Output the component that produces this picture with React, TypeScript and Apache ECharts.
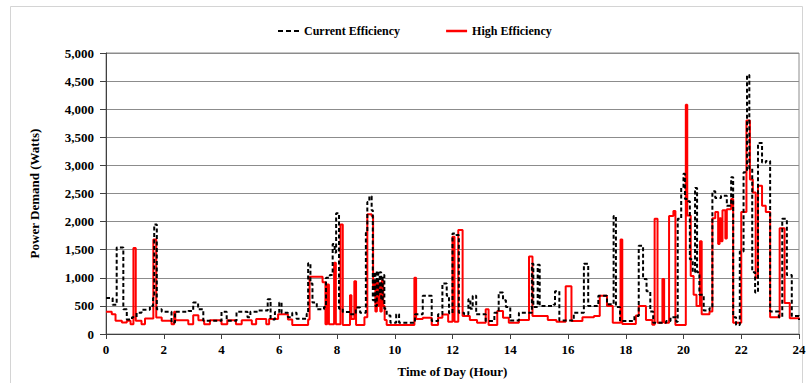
import React, { useEffect, useRef } from "react";
import * as echarts from "echarts";

// Time of day (hour) and power demand (W), step data
const currentEfficiency: [number, number][] = [
  [0, 640], [0.23, 520], [0.37, 1540], [0.6, 440], [0.72, 260], [0.9, 300], [1.06, 380], [1.23, 430],
  [1.52, 500], [1.63, 640], [1.67, 1950], [1.76, 440], [1.93, 395], [2.27, 205], [2.39, 395], [2.85, 410],
  [3.02, 560], [3.19, 440], [3.37, 235], [4.0, 395], [4.18, 235], [4.52, 395], [4.9, 300], [5.0, 395],
  [5.25, 420], [5.6, 620], [5.7, 260], [5.85, 390], [6.0, 560], [6.08, 380], [6.3, 300], [6.45, 380],
  [6.6, 270], [6.95, 360], [7.0, 1260], [7.08, 900], [7.15, 560], [7.3, 440], [7.55, 480], [7.62, 1000],
  [7.75, 1050], [7.85, 1600], [7.92, 1450], [7.97, 2150], [8.07, 450], [8.2, 390], [8.45, 350], [8.65, 470],
  [8.8, 380], [9.0, 1800], [9.05, 2350], [9.12, 2450], [9.2, 2200], [9.24, 600], [9.29, 1100], [9.33, 500],
  [9.38, 1120], [9.43, 700], [9.48, 1100], [9.53, 600], [9.58, 1050], [9.64, 450], [9.72, 330], [9.85, 200],
  [10.05, 350], [10.15, 200], [10.7, 350], [10.97, 680], [11.28, 230], [11.5, 350], [11.65, 900], [11.8, 680],
  [11.88, 370], [12.0, 1790], [12.13, 1760], [12.22, 380], [12.4, 350], [12.55, 620], [12.62, 450], [12.7, 680],
  [12.82, 350], [13.15, 230], [13.45, 380], [13.6, 740], [13.75, 600], [13.85, 480], [14.0, 240], [14.3, 380],
  [14.75, 1250], [14.8, 480], [14.95, 1230], [15.02, 500], [15.5, 520], [15.55, 760], [15.7, 240], [16.2, 380],
  [16.55, 1250], [16.7, 500], [17.05, 680], [17.35, 530], [17.58, 2100], [17.66, 480], [17.8, 230], [18.3, 320],
  [18.45, 1570], [18.6, 980], [18.72, 760], [18.85, 400], [18.95, 200], [19.4, 230], [19.55, 300], [19.75, 220],
  [19.8, 2050], [19.92, 2600], [20.0, 2850], [20.05, 2400], [20.15, 2360], [20.22, 1330], [20.32, 1100], [20.4, 2600],
  [20.47, 1100], [20.55, 700], [20.7, 420], [20.9, 460], [21.0, 2540], [21.1, 2420], [21.3, 2460], [21.5, 2280],
  [21.65, 2790], [21.72, 300], [21.82, 160], [21.95, 1470], [22.08, 2880], [22.2, 4610], [22.28, 2940], [22.38, 1100],
  [22.48, 740], [22.58, 3400], [22.72, 3050], [22.85, 3080], [23.0, 400], [23.3, 300], [23.42, 2050], [23.58, 1050],
  [23.75, 320], [24, 250],
];

const highEfficiency: [number, number][] = [
  [0, 395], [0.2, 350], [0.33, 235], [0.55, 205], [0.72, 235], [0.85, 175], [0.95, 1530], [1.03, 235],
  [1.23, 175], [1.35, 275], [1.64, 1680], [1.74, 295], [1.93, 235], [2.27, 175], [2.36, 395], [2.4, 245],
  [2.85, 175], [3.02, 335], [3.2, 245], [3.4, 175], [3.6, 245], [4.0, 175], [4.2, 245], [4.5, 175],
  [4.7, 245], [5.05, 175], [5.2, 265], [5.55, 175], [5.65, 265], [5.96, 350], [6.3, 260], [6.45, 160],
  [7.0, 260], [7.05, 1020], [7.5, 920], [7.6, 175], [7.66, 880], [7.72, 175], [7.9, 1270], [7.96, 175],
  [8.12, 1950], [8.2, 160], [8.45, 690], [8.5, 265], [8.6, 940], [8.66, 160], [8.95, 300], [9.05, 2130],
  [9.2, 2100], [9.25, 800], [9.3, 950], [9.33, 400], [9.38, 950], [9.42, 500], [9.46, 900], [9.5, 400],
  [9.55, 950], [9.6, 500], [9.65, 250], [9.72, 160], [10.68, 1000], [10.74, 265], [10.97, 290], [11.28, 160],
  [11.5, 290], [11.65, 345], [11.85, 220], [12.0, 1730], [12.07, 220], [12.2, 1850], [12.35, 320], [12.6, 250],
  [12.85, 200], [13.15, 440], [13.25, 160], [13.55, 410], [13.75, 290], [13.95, 200], [14.3, 250], [14.65, 1380],
  [14.77, 320], [15.3, 250], [15.6, 220], [15.92, 850], [16.12, 230], [16.5, 300], [16.9, 320], [17.1, 680],
  [17.35, 500], [17.55, 200], [17.82, 1680], [17.88, 180], [18.35, 330], [18.45, 500], [18.7, 250], [18.92, 165],
  [19.0, 2050], [19.1, 200], [19.27, 980], [19.33, 200], [19.5, 2100], [19.65, 2190], [19.72, 160], [20.08, 4080],
  [20.13, 2110], [20.25, 1030], [20.35, 700], [20.45, 500], [20.57, 1650], [20.63, 350], [20.9, 400], [21.0, 2060],
  [21.1, 2170], [21.2, 1600], [21.25, 2060], [21.3, 1650], [21.35, 2200], [21.45, 1700], [21.5, 2220], [21.65, 2400],
  [21.72, 200], [22.0, 2170], [22.18, 3800], [22.3, 2750], [22.4, 2520], [22.5, 1000], [22.58, 2640], [22.72, 2280],
  [22.85, 2170], [23.0, 300], [23.33, 1880], [23.5, 550], [23.68, 280], [24, 250],
];

const seriesNames = ["Current Efficiency", "High Efficiency"];
const xTitle = "Time of Day (Hour)";
const yTitle = "Power Demand (Watts)";

const FONT = "'Liberation Serif', 'Times New Roman', serif";
const DASH_ICON = "path://M0,0H5V2H0ZM8,0H13V2H8ZM16,0H21V2H16Z";

export default function App() {
  const ref = useRef<HTMLDivElement>(null);
  useEffect(() => {
    if (!ref.current) return;
    const chart = echarts.init(ref.current, null, { renderer: "svg" });
    chart.setOption({
      animation: false,
      backgroundColor: "#ffffff",
      textStyle: { fontFamily: FONT },
      graphic: [
        {
          type: "rect",
          shape: { x: 10.5, y: 6.5, width: 792, height: 390 },
          style: { fill: "none", stroke: "#d4d4d4", lineWidth: 1 },
          silent: true,
          z: -10,
        },
      ],
      legend: {
        data: [
          { name: seriesNames[0], icon: DASH_ICON, itemStyle: { color: "#000000" } },
          { name: seriesNames[1], icon: "rect", itemStyle: { color: "#ff0000" } },
        ],
        left: 273,
        top: 20,
        itemWidth: 21,
        itemHeight: 2.5,
        itemGap: 46,
        textStyle: { fontFamily: FONT, fontWeight: "bold", fontSize: 12, color: "#000" },
      },
      grid: {
        left: 106,
        right: 10,
        top: 53,
        bottom: 49,
        show: true,
        borderColor: "#8c8c8c",
        borderWidth: 1,
      },
      xAxis: {
        type: "value",
        min: 0,
        max: 24,
        interval: 2,
        name: xTitle,
        nameLocation: "middle",
        nameGap: 31,
        nameTextStyle: { fontFamily: FONT, fontWeight: "bold", fontSize: 13, color: "#000" },
        axisLine: { show: true, lineStyle: { color: "#404040", width: 1 } },
        axisTick: { show: true, length: 5, inside: false, lineStyle: { color: "#404040" } },
        axisLabel: { fontFamily: FONT, fontWeight: "bold", fontSize: 13, color: "#000", margin: 9 },
        splitLine: { show: false },
      },
      yAxis: {
        type: "value",
        min: 0,
        max: 5000,
        interval: 500,
        name: yTitle,
        nameLocation: "middle",
        nameRotate: 90,
        nameGap: 65,
        nameTextStyle: { fontFamily: FONT, fontWeight: "bold", fontSize: 13, color: "#000" },
        axisLine: { show: true, lineStyle: { color: "#404040", width: 1 } },
        axisTick: { show: true, length: 6, inside: false, lineStyle: { color: "#404040" } },
        axisLabel: {
          fontFamily: FONT,
          fontWeight: "bold",
          fontSize: 13,
          color: "#000",
          margin: 12,
          formatter: (v: number) => v.toLocaleString("en-US"),
        },
        splitLine: { show: true, lineStyle: { color: "#8c8c8c", width: 1 } },
      },
      series: [
        {
          name: seriesNames[0],
          type: "line",
          step: "end",
          data: currentEfficiency,
          symbol: "none",
          showSymbol: false,
          z: 3,
          color: "#000000",
          lineStyle: { color: "#000000", width: 2, type: [4, 2.5] },
        },
        {
          name: seriesNames[1],
          type: "line",
          step: "end",
          data: highEfficiency,
          symbol: "none",
          showSymbol: false,
          z: 2,
          color: "#ff0000",
          lineStyle: { color: "#ff0000", width: 2 },
        },
      ],
    });
    return () => chart.dispose();
  }, []);
  return (
    <div
      ref={ref}
      style={{ position: "fixed", left: 0, top: 0, width: 809, height: 383, background: "#fff" }}
    />
  );
}
